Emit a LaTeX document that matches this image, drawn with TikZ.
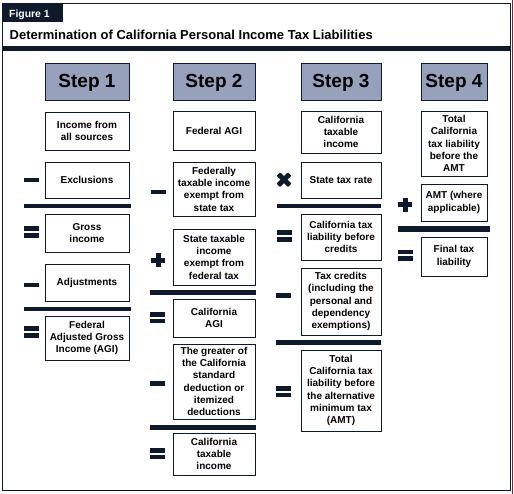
\documentclass[tikz,border=0pt]{standalone}
\usepackage{fontspec}
\setmainfont{Liberation Sans}
\definecolor{navy}{RGB}{14,26,43}
\definecolor{headfill}{RGB}{152,161,188}
\definecolor{edgered}{RGB}{140,30,40}
\begin{document}
\begin{tikzpicture}[x=1pt,y=-1pt,
  box/.style={draw=navy, line width=0.9pt, fill=white, align=center, inner sep=0pt,
    font=\bfseries\fontsize{10}{12.3}\selectfont, text=black},
  head/.style={draw=navy, line width=1pt, fill=headfill, inner sep=0pt,
    font=\bfseries\fontsize{19}{21}\selectfont, text=black},
  ink/.style={fill=navy},
  minussign/.pic={\fill[ink] (-7.5,-2.3) rectangle (7.5,2.3);},
  equalsign/.pic={\fill[ink] (-7.5,-5.6) rectangle (7.5,-1); \fill[ink] (-7.5,1) rectangle (7.5,5.6);},
  plussign/.pic={\fill[ink] (-7,-2.5) rectangle (7,2.5); \fill[ink] (-2.5,-7) rectangle (2.5,7);},
  timessign/.pic={\fill[ink, rotate=45, rounded corners=0.8] (-8,-2.5) rectangle (8,2.5);
                  \fill[ink, rotate=-45, rounded corners=0.8] (-8,-2.5) rectangle (8,2.5);}
]
\useasboundingbox (0,0) rectangle (514,494);
\fill[white] (0,0) rectangle (514,494);
% frame
\draw[navy, line width=1.3pt] (2.5,3.5) rectangle (510.7,490.7);
\draw[edgered, line width=1pt] (512.8,0) -- (512.8,494);
% figure tab and title
\fill[ink] (2.5,3) rectangle (62.5,22);
\node[anchor=base west, text=white, inner sep=0pt, font=\bfseries\fontsize{10.4}{12}\selectfont] (fig) at (9,17.3) {Figure 1};
\node[anchor=base west, inner sep=0pt, font=\bfseries\fontsize{13}{15}\selectfont] (title) at (9.5,39.5) {Determination of California Personal Income Tax Liabilities};
\fill[ink] (2.5,46) rectangle (511,51);

% headers
\node[head, minimum width=84, minimum height=37] (h1) at (87,82.5) {Step 1};
\node[head, minimum width=82, minimum height=37] (h2) at (214,82.5) {Step 2};
\node[head, minimum width=80, minimum height=37] (h3) at (341,82.5) {Step 3};
\node[head, minimum width=66, minimum height=37] (h4) at (454,82.5) {Step 4};

% column 1
\node[box, minimum width=84, minimum height=38] (b11) at (87,131) {Income from\\all sources};
\node[box, minimum width=84, minimum height=36] (b12) at (87,180) {Exclusions};
\node[box, minimum width=84, minimum height=38] (b13) at (87,233) {Gross\\income};
\node[box, minimum width=84, minimum height=37] (b14) at (87,282.5) {Adjustments};
\node[box, minimum width=84, minimum height=44] (b15) at (87,338) {Federal\\Adjusted Gross\\Income (AGI)};
\pic at (31.5,180) {minussign};
\fill[ink] (24,203.7) rectangle (131,208.5);
\pic at (31.5,232) {equalsign};
\pic at (31.5,285) {minussign};
\fill[ink] (24,306.7) rectangle (131,311.5);
\pic at (31.5,332) {equalsign};

% column 2
\node[box, minimum width=82, minimum height=39] (b21) at (214,130.5) {Federal AGI};
\node[box, minimum width=82, minimum height=54] (b22) at (214,189) {Federally\\taxable income\\exempt from\\state tax};
\node[box, minimum width=82, minimum height=56] (b23) at (214,257) {State taxable\\income\\exempt from\\federal tax};
\node[box, minimum width=82, minimum height=38] (b24) at (214,318) {California\\AGI};
\node[box, minimum width=82, minimum height=75] (b25) at (214,381.5) {The greater of\\the California\\standard\\deduction or\\itemized\\deductions};
\node[box, minimum width=82, minimum height=42] (b26) at (214,454) {California\\taxable\\income};
\pic at (158,192) {minussign};
\pic at (158.3,260.3) {plussign};
\fill[ink] (150,290) rectangle (255.5,294.8);
\pic at (157.5,317.7) {equalsign};
\pic at (157.5,383.3) {minussign};
\fill[ink] (150,424.7) rectangle (255.5,429.5);
\pic at (157.5,453.5) {equalsign};

% column 3
\node[box, minimum width=80, minimum height=42] (b31) at (341,132) {California\\taxable\\income};
\node[box, minimum width=80, minimum height=36] (b32) at (341,180) {State tax rate};
\node[box, minimum width=80, minimum height=46] (b33) at (341,237) {California tax\\liability before\\credits};
\node[box, minimum width=80, minimum height=67] (b34) at (341,301.5) {Tax credits\\(including the\\personal and\\dependency\\exemptions)};
\node[box, minimum width=80, minimum height=81] (b35) at (341,390.5) {Total\\California tax\\liability before\\the alternative\\minimum tax\\(AMT)};
\pic at (284,179.7) {timessign};
\fill[ink] (277,203.7) rectangle (381,208.5);
\pic at (284,236) {equalsign};
\pic at (283.5,295.7) {minussign};
\fill[ink] (276,340) rectangle (381,345.3);
\pic at (283.5,391.7) {equalsign};

% column 4
\node[box, minimum width=66, minimum height=65] (b41) at (454,143.5) {Total\\California\\tax liability\\before the\\AMT};
\node[box, minimum width=66, minimum height=37] (b42) at (454,202.5) {AMT (where\\applicable)};
\node[box, minimum width=66, minimum height=39] (b43) at (454,256.5) {Final tax\\liability};
\pic at (405,204.7) {plussign};
\fill[ink] (398,226.3) rectangle (489.5,231.7);
\pic at (405,255.3) {equalsign};
\end{tikzpicture}
\end{document}
